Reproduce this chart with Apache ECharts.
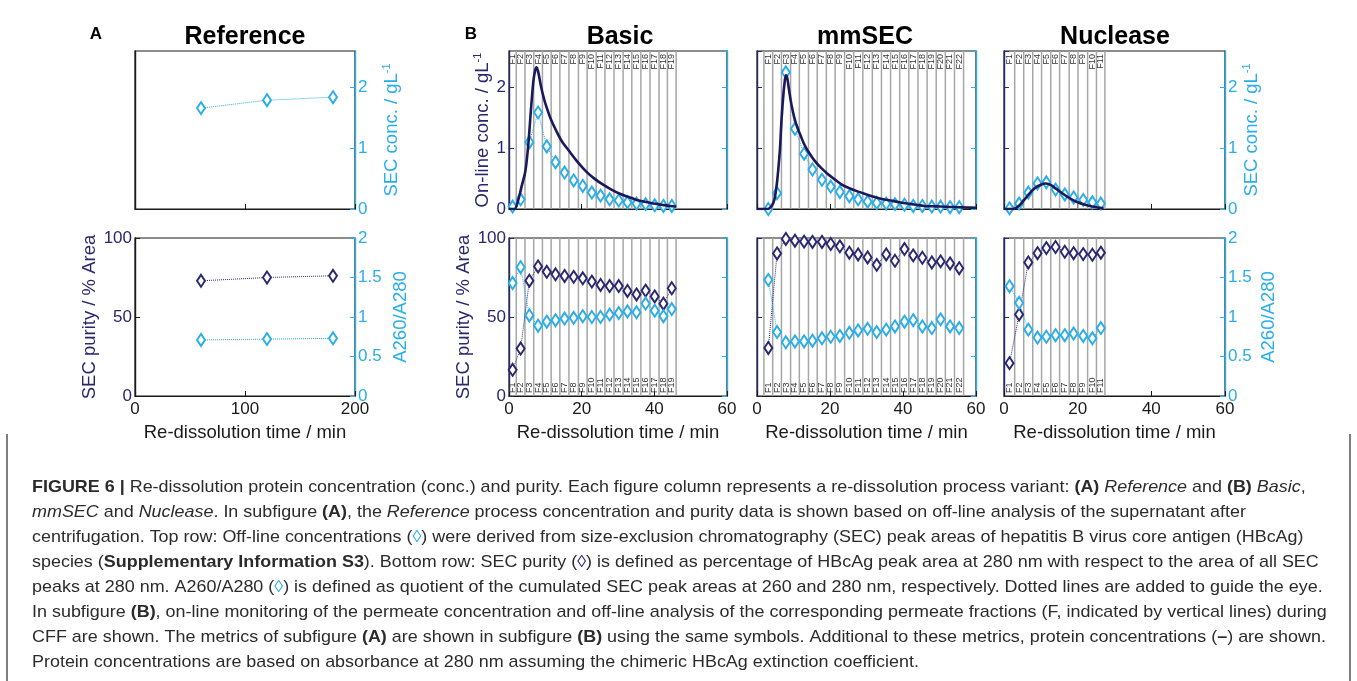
<!DOCTYPE html>
<html>
<head>
<meta charset="utf-8">
<script src="https://cdn.jsdelivr.net/npm/echarts@6/dist/echarts.min.js"></script>
<style>
html, body { margin: 0; padding: 0; background: #fff; }
#fig { width: 1357px; height: 681px; }
</style>
</head>
<body>
<div id="fig"></div>
<script>
// ---- data ----
// (A) Reference, re-dissolution in batch
var refTime = [60, 120, 180];
var refConc = [1.66, 1.79, 1.84];
var refPurity = [72.9, 75.0, 76.1];
var refRatio = [0.71, 0.72, 0.73];

// (B) Basic
var basicNames = ['F1','F2','F3','F4','F5','F6','F7','F8','F9','F10','F11','F12','F13','F14','F15','F16','F17','F18','F19'];
var basicEdges = [0, 2.0, 4.4, 6.8, 9.2, 11.6, 14.0, 16.5, 19.1, 21.5, 24.0, 26.4, 28.9, 31.4, 33.8, 36.3, 38.8, 41.3, 43.6, 46.0];
var basicTime = [1.0, 3.2, 5.6, 8.0, 10.4, 12.8, 15.3, 17.8, 20.3, 22.8, 25.2, 27.7, 30.2, 32.6, 35.1, 37.6, 40.1, 42.5, 44.8];
var basicConc = [0.04, 0.16, 1.10, 1.59, 1.03, 0.77, 0.60, 0.47, 0.38, 0.27, 0.22, 0.16, 0.14, 0.11, 0.09, 0.08, 0.06, 0.05, 0.05];
var basicPurity = [16.6, 30.0, 73.0, 82.0, 78.6, 77.0, 76.0, 75.4, 74.5, 72.4, 70.3, 69.6, 69.6, 66.5, 64.3, 66.7, 63.0, 58.4, 68.2];
var basicRatio = [1.43, 1.63, 1.02, 0.89, 0.94, 0.96, 0.98, 0.99, 1.01, 1.00, 1.00, 1.03, 1.05, 1.07, 1.06, 1.17, 1.08, 1.01, 1.10];
var basicOnlineTime = [0, 1.5, 2.5, 3.5, 4.5, 5.3, 6.0, 6.7, 7.2, 7.6, 8.1, 8.8, 9.6, 10.2, 11.5, 12.9, 14.5, 16.6, 18.8, 21.2, 23.5, 25.9, 28.2, 30.5, 32.8, 35.1, 37.4, 39.7, 42.0, 44.3, 46.0];
var basicOnline = [0, 0, 0.14, 0.38, 0.62, 1.05, 1.60, 2.10, 2.28, 2.33, 2.24, 2.02, 1.82, 1.70, 1.48, 1.30, 1.12, 0.95, 0.78, 0.62, 0.50, 0.40, 0.32, 0.25, 0.20, 0.15, 0.12, 0.09, 0.07, 0.05, 0.04];

// (B) mmSEC
var mmNames = ['F1','F2','F3','F4','F5','F6','F7','F8','F9','F10','F11','F12','F13','F14','F15','F16','F17','F18','F19','F20','F21','F22'];
var mmEdges = [1.9, 4.3, 6.7, 9.2, 11.6, 14.1, 16.5, 19.0, 21.4, 24.0, 26.5, 29.0, 31.6, 34.1, 36.6, 39.1, 41.6, 44.1, 46.6, 49.1, 51.6, 54.1, 56.6];
var mmTime = [3.1, 5.5, 7.9, 10.4, 12.9, 15.2, 17.8, 20.2, 22.7, 25.3, 27.7, 30.3, 32.8, 35.4, 37.8, 40.4, 42.8, 45.3, 47.9, 50.3, 52.9, 55.4];
var mmConc = [0.0, 0.26, 2.25, 1.32, 0.91, 0.65, 0.48, 0.37, 0.28, 0.21, 0.16, 0.12, 0.10, 0.09, 0.08, 0.07, 0.05, 0.05, 0.04, 0.04, 0.03, 0.03];
var mmPurity = [30.4, 90.2, 99.4, 98.3, 97.7, 97.5, 97.5, 96.2, 94.7, 90.7, 89.6, 87.7, 83.0, 89.6, 85.6, 93.0, 89.0, 87.5, 84.5, 85.2, 83.9, 80.9];
var mmRatio = [1.47, 0.81, 0.68, 0.69, 0.69, 0.70, 0.73, 0.75, 0.76, 0.80, 0.83, 0.85, 0.81, 0.84, 0.88, 0.94, 0.96, 0.88, 0.86, 0.97, 0.88, 0.86];
var mmOnlineTime = [0, 2.9, 4.0, 4.7, 5.3, 5.8, 6.3, 6.7, 7.1, 7.5, 7.9, 8.3, 8.8, 9.4, 10.2, 11.0, 12.0, 12.9, 14.0, 15.7, 17.5, 19.3, 21.0, 23.0, 25.0, 27.5, 30.0, 32.0, 34.5, 36.6, 39.0, 41.2, 43.5, 45.8, 48.0, 50.3, 52.5, 54.9, 57.5, 60];
var mmOnline = [0, 0, 0.05, 0.14, 0.35, 0.63, 1.00, 1.45, 1.80, 2.05, 2.20, 2.15, 1.95, 1.73, 1.51, 1.35, 1.20, 1.07, 0.95, 0.80, 0.68, 0.58, 0.50, 0.41, 0.35, 0.29, 0.24, 0.20, 0.16, 0.14, 0.11, 0.09, 0.07, 0.05, 0.045, 0.04, 0.035, 0.03, 0.025, 0.02];

// (B) Nuclease
var nucNames = ['F1','F2','F3','F4','F5','F6','F7','F8','F9','F10','F11'];
var nucEdges = [0, 2.9, 5.35, 7.8, 10.2, 12.7, 15.1, 17.7, 20.1, 22.7, 25.1, 27.4];
var nucTime = [1.5, 4.1, 6.6, 9.1, 11.5, 14.0, 16.5, 18.9, 21.5, 24.0, 26.3];
var nucConc = [0.01, 0.09, 0.27, 0.42, 0.44, 0.32, 0.24, 0.19, 0.15, 0.11, 0.09];
var nucPurity = [20.8, 51.6, 84.5, 90.4, 93.6, 94.3, 91.3, 90.4, 89.8, 89.4, 90.7];
var nucRatio = [1.39, 1.18, 0.84, 0.74, 0.75, 0.77, 0.77, 0.79, 0.76, 0.73, 0.86];
var nucOnlineTime = [0, 2.5, 4.0, 5.5, 7.0, 8.5, 10.0, 11.2, 12.5, 14.0, 16.0, 18.0, 20.0, 22.0, 24.0, 26.0, 27.0];
var nucOnline = [0, 0, 0.05, 0.15, 0.26, 0.35, 0.40, 0.42, 0.40, 0.34, 0.25, 0.17, 0.11, 0.07, 0.04, 0.02, 0.01];

var panelTitles = ['Reference', 'Basic', 'mmSEC', 'Nuclease'];
var captionLines = [
  '{b|FIGURE 6 |} Re-dissolution protein concentration (conc.) and purity. Each figure column represents a re-dissolution process variant: {b|(A)} {i|Reference} and {b|(B)} {i|Basic},',
  '{i|mmSEC} and {i|Nuclease}. In subfigure {b|(A)}, the {i|Reference} process concentration and purity data is shown based on off-line analysis of the supernatant after',
  'centrifugation. Top row: Off-line concentrations ({lb|◊}) were derived from size-exclusion chromatography (SEC) peak areas of hepatitis B virus core antigen (HBcAg)',
  'species ({b|Supplementary Information S3}). Bottom row: SEC purity ({db|◊}) is defined as percentage of HBcAg peak area at 280 nm with respect to the area of all SEC',
  'peaks at 280 nm. A260/A280 ({lb|◊}) is defined as quotient of the cumulated SEC peak areas at 260 and 280 nm, respectively. Dotted lines are added to guide the eye.',
  'In subfigure {b|(B)}, on-line monitoring of the permeate concentration and off-line analysis of the corresponding permeate fractions (F, indicated by vertical lines) during',
  'CFF are shown. The metrics of subfigure {b|(A)} are shown in subfigure {b|(B)} using the same symbols. Additional to these metrics, protein concentrations ({b|–}) are shown.',
  'Protein concentrations are based on absorbance at 280 nm assuming the chimeric HBcAg extinction coefficient.'
];

// ---- styling ----
var navy = '#2a276e';
var navyLine = '#1c195a';
var blue = '#28aee8';
var ink = '#1a1a1a';
var FONT = '"Liberation Sans", Arial, Helvetica, sans-serif';

var chart = echarts.init(document.getElementById('fig'));

// grid index: 0 ref top, 1 ref bottom, 2 basic top, 3 basic bottom, 4 mmSEC top, 5 mmSEC bottom, 6 nuc top, 7 nuc bottom
var colLeft = [135, 509, 757, 1004];
var colWidth = [220, 218, 219, 221];
var rowTop = [51, 238];
var rowHeight = 158;

var grids = [];
for (var c = 0; c < 4; c++) {
  for (var r = 0; r < 2; r++) {
    grids.push({
      left: colLeft[c], top: rowTop[r], width: colWidth[c], height: rowHeight,
      show: true, borderColor: ink, borderWidth: 1.2, backgroundColor: 'transparent'
    });
  }
}

function xAx(gi, max, interval, labels) {
  return {
    type: 'value', gridIndex: gi, min: 0, max: max, interval: interval,
    axisLine: { show: true, onZero: false, lineStyle: { color: ink, width: 1.2 } },
    axisTick: { show: true, inside: true, length: 5, lineStyle: { color: ink } },
    axisLabel: { show: labels, color: ink, fontSize: 17, margin: 5, fontFamily: FONT },
    splitLine: { show: false },
    name: labels ? 'Re-dissolution time / min' : '',
    nameLocation: 'middle', nameGap: 27,
    nameTextStyle: { fontSize: 18.5, color: ink, fontFamily: FONT }
  };
}

function yAx(gi, side, max, interval, color, lineColor, labels, name, gap, ticks) {
  var rich = {
    t: { fontSize: 18.5, color: color, fontFamily: FONT },
    s: { fontSize: 11, color: color, fontFamily: FONT, padding: [0, 0, 10, 0] }
  };
  return {
    type: 'value', gridIndex: gi, position: side, min: 0, max: max, interval: interval,
    axisLine: { show: true, onZero: false, lineStyle: { color: lineColor, width: 1.4 } },
    axisTick: { show: ticks, inside: true, length: 5, lineStyle: { color: lineColor } },
    axisLabel: {
      show: labels, color: color, fontSize: 17, margin: 3, fontFamily: FONT,
      showMaxLabel: max % interval === 0
    },
    splitLine: { show: false },
    name: name || '', nameLocation: 'middle', nameGap: gap || 20,
    nameRotate: 90,
    nameTextStyle: { fontSize: 18.5, color: color, fontFamily: FONT, rich: rich }
  };
}

var concName = '{t|SEC conc. / gL}{s|-1}';
var onlineName = '{t|On-line conc. / gL}{s|-1}';
var purityName = 'SEC purity / % Area';
var ratioName = 'A260/A280';

var xAxes = [
  xAx(0, 200, 100, false), xAx(1, 200, 100, true),
  xAx(2, 60, 20, false), xAx(3, 60, 20, true),
  xAx(4, 60, 20, false), xAx(5, 60, 20, true),
  xAx(6, 60, 20, false), xAx(7, 60, 20, true)
];

var yAxes = [
  // ref top
  yAx(0, 'left', 2.6, 1, ink, ink, false, '', 20, false),
  yAx(0, 'right', 2.6, 1, blue, blue, true, concName, 26, true),
  // ref bottom
  yAx(1, 'left', 100, 50, navy, ink, true, purityName, 34, true),
  yAx(1, 'right', 2, 0.5, blue, blue, true, ratioName, 36, true),
  // basic top
  yAx(2, 'left', 2.6, 1, navy, navy, true, onlineName, 15, true),
  yAx(2, 'right', 2.6, 1, blue, blue, false, '', 20, true),
  // basic bottom
  yAx(3, 'left', 100, 50, navy, navy, true, purityName, 36, true),
  yAx(3, 'right', 2, 0.5, blue, blue, false, '', 20, true),
  // mmSEC top
  yAx(4, 'left', 2.6, 1, navy, navy, false, '', 20, true),
  yAx(4, 'right', 2.6, 1, blue, blue, false, '', 20, true),
  // mmSEC bottom
  yAx(5, 'left', 100, 50, navy, navy, false, '', 20, true),
  yAx(5, 'right', 2, 0.5, blue, blue, false, '', 20, true),
  // nuclease top
  yAx(6, 'left', 2.6, 1, navy, navy, false, '', 20, true),
  yAx(6, 'right', 2.6, 1, blue, blue, true, concName, 16, true),
  // nuclease bottom
  yAx(7, 'left', 100, 50, navy, navy, false, '', 20, true),
  yAx(7, 'right', 2, 0.5, blue, blue, true, ratioName, 34, true)
];

function pairs(xs, ys) {
  return xs.map(function (t, k) { return [t, ys[k]]; });
}

function marks(name, gi, yi, xs, ys, color) {
  return {
    name: name, type: 'line', xAxisIndex: gi, yAxisIndex: yi,
    data: pairs(xs, ys),
    symbol: 'emptyDiamond', symbolSize: [8, 12], showAllSymbol: true,
    itemStyle: { color: color, borderColor: color, borderWidth: 1.3 },
    lineStyle: { color: color, width: 1, type: 'dotted' },
    z: 3, silent: true
  };
}

function online(gi, xs, ys) {
  return {
    name: 'On-line conc.', type: 'line', xAxisIndex: gi, yAxisIndex: 2 * gi,
    data: pairs(xs, ys), symbol: 'none', smooth: 0.3,
    lineStyle: { color: navyLine, width: 2.6 },
    z: 4, silent: true
  };
}

function fractions(gi, edges, names, atTop) {
  var data = names.map(function (n, k) { return [edges[k], edges[k + 1]]; });
  return {
    type: 'custom', xAxisIndex: gi, yAxisIndex: 2 * gi, z: 1, silent: true,
    data: data,
    renderItem: function (params, api) {
      var cs = params.coordSys;
      var x0 = api.coord([api.value(0), 0])[0];
      var x1 = api.coord([api.value(1), 0])[0];
      var kids = [{
        type: 'line',
        shape: { x1: x1, y1: cs.y, x2: x1, y2: cs.y + cs.height },
        style: { stroke: '#a6a6a6', lineWidth: 1.5 }
      }];
      if (params.dataIndex === 0 && x0 > cs.x + 2) {
        kids.push({
          type: 'line',
          shape: { x1: x0, y1: cs.y, x2: x0, y2: cs.y + cs.height },
          style: { stroke: '#a6a6a6', lineWidth: 1.5 }
        });
      }
      kids.push({
        type: 'text',
        x: (x0 + x1) / 2,
        y: atTop ? cs.y + 3 : cs.y + cs.height - 3,
        rotation: Math.PI / 2,
        style: {
          text: names[params.dataIndex], fontSize: 9, fontFamily: FONT, fill: '#333',
          align: atTop ? 'right' : 'left', verticalAlign: 'middle'
        }
      });
      return { type: 'group', children: kids };
    }
  };
}

var series = [
  marks('SEC conc.', 0, 1, refTime, refConc, blue),
  marks('SEC purity', 1, 2, refTime, refPurity, navy),
  marks('A260/A280', 1, 3, refTime, refRatio, blue),

  fractions(2, basicEdges, basicNames, true),
  marks('SEC conc.', 2, 5, basicTime, basicConc, blue),
  online(2, basicOnlineTime, basicOnline),
  fractions(3, basicEdges, basicNames, false),
  marks('SEC purity', 3, 6, basicTime, basicPurity, navy),
  marks('A260/A280', 3, 7, basicTime, basicRatio, blue),

  fractions(4, mmEdges, mmNames, true),
  marks('SEC conc.', 4, 9, mmTime, mmConc, blue),
  online(4, mmOnlineTime, mmOnline),
  fractions(5, mmEdges, mmNames, false),
  marks('SEC purity', 5, 10, mmTime, mmPurity, navy),
  marks('A260/A280', 5, 11, mmTime, mmRatio, blue),

  fractions(6, nucEdges, nucNames, true),
  marks('SEC conc.', 6, 13, nucTime, nucConc, blue),
  online(6, nucOnlineTime, nucOnline),
  fractions(7, nucEdges, nucNames, false),
  marks('SEC purity', 7, 14, nucTime, nucPurity, navy),
  marks('A260/A280', 7, 15, nucTime, nucRatio, blue)
];

// titles, panel letters, caption
var titleX = [245, 620, 865, 1115];
var graphics = [];
panelTitles.forEach(function (t, k) {
  graphics.push({
    type: 'text', x: titleX[k], y: 37,
    style: {
      text: t, fontSize: 25, fontWeight: 'bold', fontFamily: FONT, fill: '#000',
      align: 'center', verticalAlign: 'middle', textAlign: 'center', textVerticalAlign: 'middle'
    }
  });
});
[['A', 96], ['B', 471]].forEach(function (p) {
  graphics.push({
    type: 'text', x: p[1], y: 34,
    style: {
      text: p[0], fontSize: 17, fontWeight: 'bold', fontFamily: FONT, fill: '#000',
      align: 'center', verticalAlign: 'middle', textAlign: 'center', textVerticalAlign: 'middle'
    }
  });
});

// caption: slightly stretched horizontally to match the original's wide setting
var capFont = 17;
var capRich = {
  b: { fontWeight: 'bold', fontSize: capFont, fontFamily: FONT, fill: '#2b2b2b', color: '#2b2b2b' },
  i: { fontStyle: 'italic', fontSize: capFont, fontFamily: FONT, fill: '#2b2b2b', color: '#2b2b2b' },
  lb: { fontSize: capFont, fontFamily: FONT, fill: blue, color: blue },
  db: { fontSize: capFont, fontFamily: FONT, fill: navy, color: navy }
};
captionLines.forEach(function (line, k) {
  graphics.push({
    type: 'text', x: 32, y: 487 + 25 * k, scaleX: 1.055,
    style: {
      text: line, fontSize: capFont, fontFamily: FONT, fill: '#2b2b2b',
      verticalAlign: 'middle', textVerticalAlign: 'middle', rich: capRich
    }
  });
});
graphics.push({ type: 'line', shape: { x1: 7, y1: 434, x2: 7, y2: 681 }, style: { stroke: '#555', lineWidth: 1.5 } });
graphics.push({ type: 'line', shape: { x1: 1350, y1: 434, x2: 1350, y2: 681 }, style: { stroke: '#555', lineWidth: 1.5 } });

var option = {
  animation: false,
  backgroundColor: '#fff',
  textStyle: { fontFamily: FONT },
  grid: grids,
  xAxis: xAxes,
  yAxis: yAxes,
  series: series,
  graphic: graphics
};

if (option && typeof option === 'object') {
  chart.setOption(option, true);
}
</script>
</body>
</html>
